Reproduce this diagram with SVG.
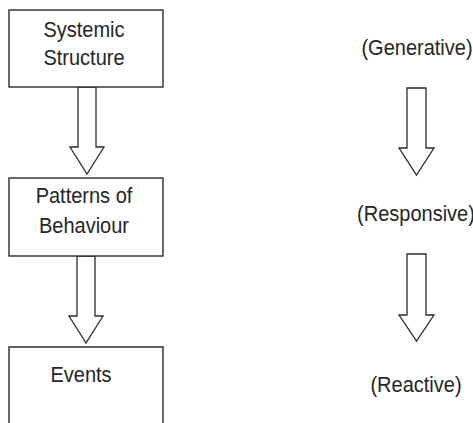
<svg xmlns="http://www.w3.org/2000/svg" width="473" height="423" viewBox="0 0 473 423">
  <style>
    .box { fill: #ffffff; stroke: #2b2b2b; stroke-width: 1.4; }
    .arrow { fill: #ffffff; stroke: #2b2b2b; stroke-width: 1.3; stroke-linejoin: miter; }
    text { font-family: "Liberation Sans", Arial, sans-serif; font-size: 20px; fill: #262626; text-anchor: middle; }
  </style>
  <rect width="473" height="423" fill="#ffffff"/>

  <g id="connectors">
    <!-- block arrows between the levels -->
    <path class="arrow" d="M78,87 H96 V147 H104 L87,174 L70,147 H78 Z"/>
    <path class="arrow" d="M77,256 H95 V316 H103 L86,343 L69,316 H77 Z"/>
    <path class="arrow" d="M407,88 H426 V148 H434 L416.5,175 L399,148 H407 Z"/>
    <path class="arrow" d="M407,254 H426 V315 H434 L416.5,341 L399,315 H407 Z"/>
  </g>

  <!-- labels are drawn slightly taller than wide (narrow face) -->
  <g id="systemic-structure">
    <rect class="box" x="9" y="10" width="154" height="77"/>
    <text transform="translate(84,37) scale(1,1.14)">Systemic</text>
    <text transform="translate(84,65) scale(1,1.14)">Structure</text>
  </g>

  <g id="patterns-of-behaviour">
    <rect class="box" x="9" y="178" width="154" height="78"/>
    <text transform="translate(84,203) scale(1,1.14)">Patterns of</text>
    <text transform="translate(84,233) scale(1,1.14)">Behaviour</text>
  </g>

  <g id="events">
    <path class="box" d="M9,424 V347 H163 V424"/>
    <text transform="translate(81,382) scale(1,1.14)">Events</text>
  </g>

  <g id="generative">
    <text transform="translate(417,55) scale(1,1.14)">(Generative)</text>
  </g>
  <g id="responsive">
    <text transform="translate(416,221) scale(1,1.14)">(Responsive)</text>
  </g>
  <g id="reactive">
    <text transform="translate(416,392) scale(1,1.14)">(Reactive)</text>
  </g>
</svg>
